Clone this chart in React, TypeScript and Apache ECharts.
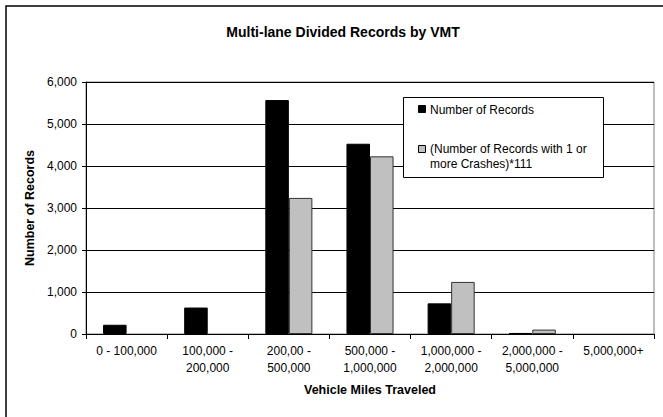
import React, { useEffect, useRef } from "react";
import * as echarts from "echarts";

const categories = [
  "0 - 100,000",
  "100,000 -\n200,000",
  "200,00 -\n500,000",
  "500,000 -\n1,000,000",
  "1,000,000 -\n2,000,000",
  "2,000,000 -\n5,000,000",
  "5,000,000+",
];
const numberOfRecords = [220, 630, 5570, 4530, 730, 25, 0];
const crashRecordsScaled = [0, 0, 3240, 4230, 1240, 105, 0];
const seriesNames = [
  "Number of Records",
  "(Number of Records with 1 or more Crashes)*111",
];
const legendLines = [
  ["Number of Records"],
  ["(Number of Records with 1 or", "more Crashes)*111"],
];

const FONT = "Arial, 'Liberation Sans', sans-serif";

const hideZero = (arr: number[]) => arr.map((v) => (v === 0 ? null : v));

export default function App() {
  const ref = useRef<HTMLDivElement>(null);
  useEffect(() => {
    if (!ref.current) return;
    const chart = echarts.init(ref.current, undefined, { renderer: "svg" });
    const legendGraphics: any[] = [
      {
        type: "rect",
        shape: { x: 403.5, y: 97.5, width: 200, height: 80 },
        style: { fill: "#fff", stroke: "#000", lineWidth: 1 },
        z: 100,
      },
      {
        type: "rect",
        shape: { x: 418.5, y: 105.5, width: 7, height: 7 },
        style: { fill: "#000", stroke: "#000", lineWidth: 1 },
        z: 101,
      },
      {
        type: "text",
        x: 430,
        y: 109.5,
        style: {
          text: legendLines[0].join("\n"),
          font: `12px ${FONT}`,
          fill: "#000",
          verticalAlign: "middle",
        },
        z: 101,
      },
      {
        type: "rect",
        shape: { x: 418.5, y: 145.5, width: 7, height: 7 },
        style: { fill: "#c0c0c0", stroke: "#000", lineWidth: 1 },
        z: 101,
      },
      {
        type: "text",
        x: 430,
        y: 141,
        style: {
          text: legendLines[1].join("\n"),
          font: `12px ${FONT}`,
          fill: "#000",
          lineHeight: 15,
          verticalAlign: "top",
        },
        z: 101,
      },
    ];
    chart.setOption({
      animation: false,
      backgroundColor: "#fff",
      title: {
        text: "Multi-lane Divided Records by VMT",
        left: 338,
        top: 20,
        textAlign: "center",
        textStyle: { fontFamily: FONT, fontSize: 14, fontWeight: "bold", color: "#000" },
      },
      graphic: [
        {
          type: "rect",
          shape: { x: 6, y: 6, width: 800, height: 600 },
          style: { fill: "none", stroke: "#000", lineWidth: 1.5 },
          z: 50,
        },
        ...legendGraphics,
      ],
      grid: {
        left: 86,
        right: 9,
        top: 82,
        bottom: 83,
        show: true,
        borderColor: "#808080",
        borderWidth: 1,
        backgroundColor: "#fff",
      },
      xAxis: {
        type: "category",
        data: categories,
        name: "Vehicle Miles Traveled",
        nameLocation: "middle",
        nameGap: 49,
        nameTextStyle: { fontFamily: FONT, fontSize: 12.5, fontWeight: "bold", color: "#000" },
        axisLine: { show: true, lineStyle: { color: "#000", width: 1 } },
        axisTick: { show: true, length: 5, lineStyle: { color: "#000" } },
        axisLabel: {
          fontFamily: FONT,
          fontSize: 12,
          color: "#000",
          lineHeight: 16.5,
          margin: 9,
          interval: 0,
        },
        splitLine: { show: false },
      },
      yAxis: {
        type: "value",
        min: 0,
        max: 6000,
        interval: 1000,
        name: "Number of Records",
        nameLocation: "middle",
        nameGap: 47,
        nameTextStyle: { fontFamily: FONT, fontSize: 12.5, fontWeight: "bold", color: "#000" },
        axisLine: { show: true, lineStyle: { color: "#000", width: 1 } },
        axisTick: { show: true, length: 4, lineStyle: { color: "#000" } },
        axisLabel: {
          fontFamily: FONT,
          fontSize: 12,
          color: "#000",
          margin: 9,
          formatter: (v: number) => v.toLocaleString("en-US"),
        },
        splitLine: { show: true, lineStyle: { color: "#000", width: 1 } },
      },
      series: [
        {
          name: seriesNames[0],
          type: "bar",
          data: hideZero(numberOfRecords),
          barCategoryGap: "42%",
          barGap: "0%",
          itemStyle: { color: "#000", borderColor: "#000", borderWidth: 1 },
        },
        {
          name: seriesNames[1],
          type: "bar",
          data: hideZero(crashRecordsScaled),
          barCategoryGap: "42%",
          barGap: "0%",
          itemStyle: { color: "#c0c0c0", borderColor: "#333", borderWidth: 1 },
        },
      ],
    });
    return () => chart.dispose();
  }, []);
  return (
    <div
      ref={ref}
      style={{ position: "absolute", left: 0, top: 0, width: 663, height: 417 }}
    />
  );
}
